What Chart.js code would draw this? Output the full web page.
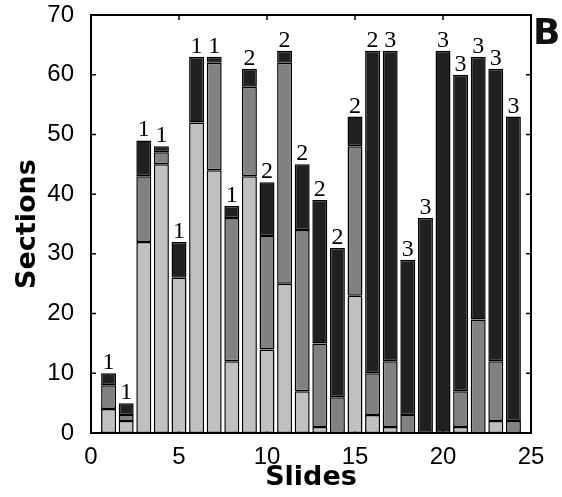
<!DOCTYPE html>
<html>
<head>
<meta charset="utf-8">
<script src="https://cdn.jsdelivr.net/npm/chart.js@4.4.0/dist/chart.umd.min.js"></script>
<style>
  body { margin: 0; background: #fff; }
  #wrap { position: relative; width: 562px; height: 497px; }
  #panel {
    position: absolute; left: 533px; top: 14px;
    font: bold 36px 'DejaVu Sans', sans-serif; line-height: 1; color: #111;
  }
</style>
</head>
<body>
<div id="wrap">
  <canvas id="chart"></canvas>
  <div id="panel">B</div>
</div>
<script>
// Data
const slides = [1, 2, 3, 4, 5, 6, 7, 8, 9, 10, 11, 12, 13, 14, 15, 16, 17, 18, 19, 20, 21, 22, 23, 24];
const lightVals = [4, 2, 32, 45, 26, 52, 44, 12, 43, 14, 25, 7, 1, 0, 23, 3, 1, 0, 0, 0, 1, 0, 2, 0];
const midVals = [4, 1, 11, 2, 0, 0, 18, 24, 15, 19, 37, 27, 14, 6, 25, 7, 11, 3, 0, 0, 6, 19, 10, 2];
const darkVals = [2, 2, 6, 1, 6, 11, 1, 2, 3, 9, 2, 11, 24, 25, 5, 54, 52, 26, 36, 64, 53, 44, 49, 51];
const groupLabels = ['1', '1', '1', '1', '1', '1', '1', '1', '2', '2', '2', '2', '2', '2', '2', '2', '3', '3', '3', '3', '3', '3', '3', '3'];
const xTicks = [0, 5, 10, 15, 20, 25];
const yTicks = [0, 10, 20, 30, 40, 50, 60, 70];

const points = vals => slides.map((s, i) => ({ x: s, y: vals[i] }));

// Box, inward tick marks and group numbers over the bars
const frame = {
  id: 'frame',
  beforeDatasetsDraw(chart) {
    const { ctx, chartArea: a, scales: { x, y } } = chart;
    ctx.save();
    ctx.strokeStyle = '#000';
    ctx.lineWidth = 1.5;
    ctx.beginPath();
    x.ticks.forEach(t => {
      const px = x.getPixelForValue(t.value);
      ctx.moveTo(px, a.top); ctx.lineTo(px, a.top + 5);
      ctx.moveTo(px, a.bottom); ctx.lineTo(px, a.bottom - 5);
    });
    y.ticks.forEach(t => {
      const py = y.getPixelForValue(t.value);
      ctx.moveTo(a.left, py); ctx.lineTo(a.left + 5, py);
      ctx.moveTo(a.right, py); ctx.lineTo(a.right - 5, py);
    });
    ctx.stroke();
    ctx.restore();
  },
  afterDatasetsDraw(chart) {
    const { ctx, chartArea: a } = chart;
    ctx.save();
    ctx.strokeStyle = '#000';
    ctx.lineWidth = 2;
    ctx.strokeRect(a.left, a.top, a.right - a.left, a.bottom - a.top);

    ctx.fillStyle = '#000';
    ctx.font = "24px 'Liberation Serif', serif";
    ctx.textAlign = 'center';
    ctx.textBaseline = 'alphabetic';
    const top = chart.getDatasetMeta(2);
    top.data.forEach((bar, i) => {
      ctx.fillText(groupLabels[i], bar.x, bar.y - 4);
    });
    ctx.restore();
  }
};

const tickFont = { family: "'Liberation Sans', Arial, sans-serif", size: 24 };
const titleFont = { family: "'DejaVu Sans', sans-serif", size: 27, weight: 'bold' };

new Chart(document.getElementById('chart'), {
  type: 'bar',
  data: {
    datasets: [
      { label: 'light', data: points(lightVals), backgroundColor: '#c0c0c0' },
      { label: 'mid', data: points(midVals), backgroundColor: '#818181' },
      { label: 'dark', data: points(darkVals), backgroundColor: '#202020' }
    ]
  },
  options: {
    responsive: true,
    maintainAspectRatio: false,
    animation: false,
    events: [],
    layout: { padding: { top: 15, right: 31, left: 0, bottom: 0 } },
    datasets: {
      bar: {
        borderColor: '#000',
        borderWidth: 1.5,
        borderSkipped: false,
        barPercentage: 0.85,
        categoryPercentage: 1
      }
    },
    plugins: {
      legend: { display: false },
      tooltip: { enabled: false }
    },
    scales: {
      x: {
        type: 'linear',
        stacked: true,
        offset: false,
        min: 0,
        max: 25,
        afterFit: s => { s.height = 64; s.paddingLeft = 0; s.paddingRight = 0; },
        afterBuildTicks: s => { s.ticks = xTicks.map(v => ({ value: v })); },
        grid: { display: false },
        border: { display: false },
        ticks: { color: '#000', font: tickFont, padding: 2, maxRotation: 0 },
        title: { display: true, text: 'Slides', color: '#000', font: titleFont, padding: { top: 0, bottom: 3 } }
      },
      y: {
        stacked: true,
        min: 0,
        max: 70,
        afterFit: s => { s.width = 91; s.paddingTop = 0; s.paddingBottom = 0; },
        afterBuildTicks: s => { s.ticks = yTicks.map(v => ({ value: v })); },
        grid: { display: false },
        border: { display: false },
        ticks: { color: '#000', font: tickFont, padding: 9 },
        title: { display: true, text: 'Sections', color: '#000', font: titleFont, padding: { top: 12, bottom: 0 } }
      }
    }
  },
  plugins: [frame]
});
</script>
</body>
</html>
